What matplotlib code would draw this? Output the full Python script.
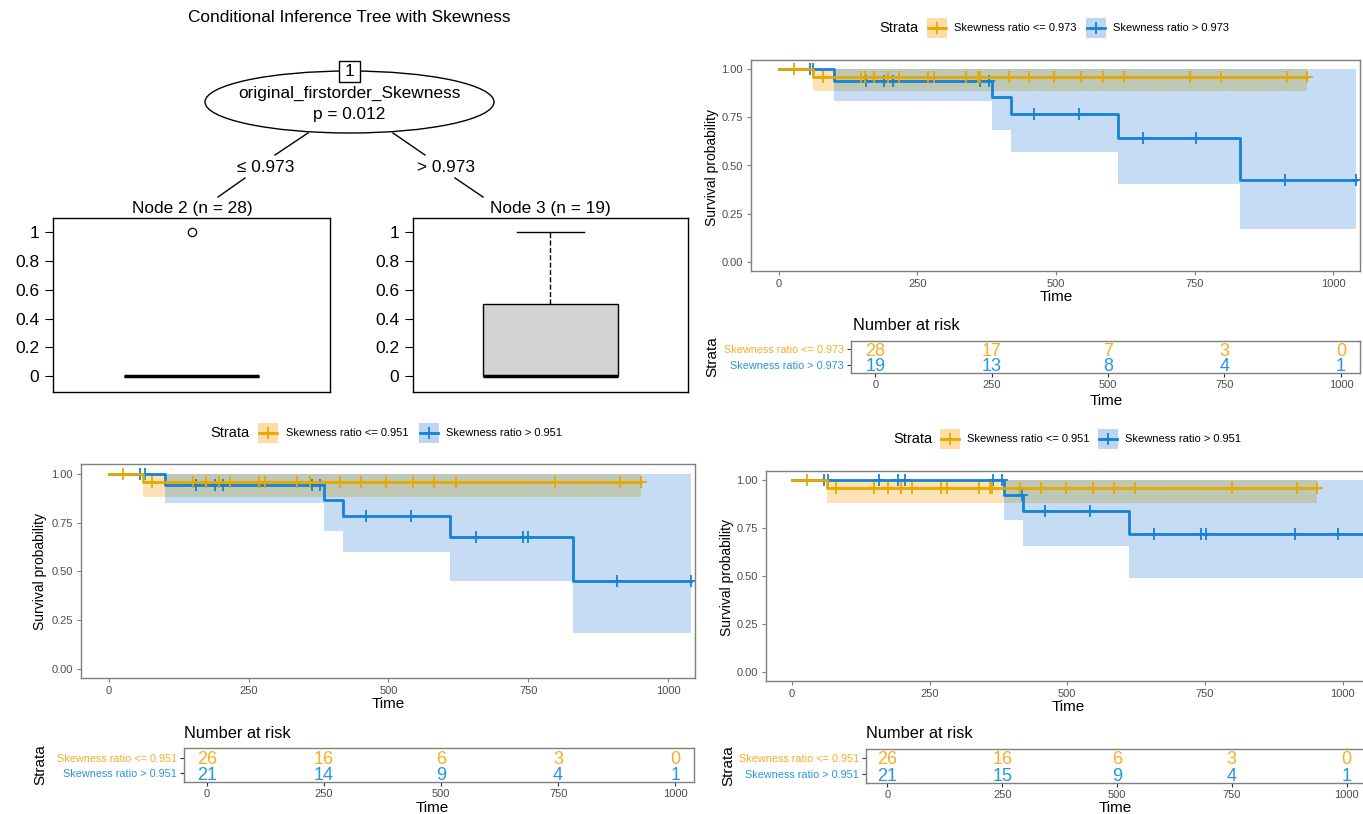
import numpy as np
import matplotlib
matplotlib.use('Agg')
import matplotlib.pyplot as plt
from matplotlib.patches import Ellipse, Rectangle

plt.rcParams['font.family'] = ['Liberation Sans', 'DejaVu Sans']

W, H = 1363, 814

# ---------------- data ----------------
tree_title = 'Conditional Inference Tree with Skewness'
split_var = 'original_firstorder_Skewness'
split_p = 'p = 0.012'
split_labels = ['\u2264 0.973', '> 0.973']
node_names = ['Node 2 (n = 28)', 'Node 3 (n = 19)']
node2_counts = [27, 1]   # number of 0 / 1 outcomes
node3_counts = [14, 5]

risk_times = [0, 250, 500, 750, 1000]

# panel A: cut 0.973
a_labels = ['Skewness ratio <= 0.973', 'Skewness ratio > 0.973']
a_pval = 'p = 0.098'
a_low_t = [0, 63, 953]
a_low_s = [1.0, 0.962, 0.962]
a_low_ci = [1.0, 0.889, 0.889]
a_low_cens = [27, 80, 148, 155, 172, 197, 218, 269, 281, 338, 360, 364, 415, 451,
              497, 545, 585, 622, 742, 798, 917, 953]
a_high_t = [0, 100, 385, 419, 612, 832, 1040]
a_high_s = [1.0, 0.941, 0.855, 0.768, 0.642, 0.426, 0.426]
a_high_ci = [1.0, 0.837, 0.685, 0.569, 0.403, 0.170, 0.170]
a_high_cens = [57, 63, 157, 190, 206, 364, 380, 460, 541, 657, 752, 912, 1040]
a_risk_low = [28, 17, 7, 3, 0]
a_risk_high = [19, 13, 8, 4, 1]

# panel B: cut 0.951
b_labels = ['Skewness ratio <= 0.951', 'Skewness ratio > 0.951']
b_pval = 'p = 0.15'
b_low_t = [0, 62, 952]
b_low_s = [1.0, 0.958, 0.958]
b_low_ci = [1.0, 0.880, 0.880]
b_low_cens = [26, 78, 150, 173, 197, 217, 269, 280, 336, 360, 414, 450, 496, 544,
              582, 621, 797, 914, 952]
b_high_t = [0, 100, 384, 418, 610, 830, 1041]
b_high_s = [1.0, 0.945, 0.868, 0.786, 0.676, 0.449, 0.449]
b_high_ci = [1.0, 0.851, 0.709, 0.598, 0.449, 0.183, 0.183]
b_high_cens = [56, 64, 156, 190, 205, 364, 378, 460, 541, 656, 741, 750, 909, 1041]
b_risk_low = [26, 16, 6, 3, 0]
b_risk_high = [21, 14, 9, 4, 1]

# panel C: cut 0.951, second cohort
c_labels = ['Skewness ratio <= 0.951', 'Skewness ratio > 0.951']
c_pval = 'p = 0.44'
c_low_t = [0, 64, 953]
c_low_s = [1.0, 0.958, 0.958]
c_low_ci = [1.0, 0.882, 0.882]
c_low_cens = [27, 81, 150, 174, 198, 218, 271, 281, 339, 360, 364, 415, 452, 498,
              546, 585, 623, 799, 917, 953]
c_high_t = [0, 386, 419, 612, 1040]
c_high_s = [1.0, 0.922, 0.840, 0.718, 0.718]
c_high_ci = [1.0, 0.791, 0.657, 0.487, 0.487]
c_high_cens = [58, 66, 158, 193, 206, 366, 381, 417, 460, 542, 657, 743, 752, 913, 992]
c_risk_low = [26, 16, 6, 3, 0]
c_risk_high = [21, 15, 9, 4, 1]

# ---------------- styles ----------------
OR_LINE, BL_LINE = '#E7A800', '#1582D6'
OR_FILL, BL_FILL, MIX_FILL = '#FDE2B5', '#C6DCF5', '#BFC8B5'
OR_KEY, BL_KEY = '#FDDCA6', '#BCD6F2'
OR_TXT, BL_TXT = '#F7AE26', '#2796DF'
GRID_C = '#7F7F7F'
TICK_C = '#4D4D4D'

fig = plt.figure(figsize=(W / 100, H / 100), dpi=100)

# overlay in pixel coords for free text and tree shapes
ov = fig.add_axes([0, 0, 1, 1])
ov.set_xlim(0, W)
ov.set_ylim(H, 0)
ov.axis('off')


def add_ax(l, t, r, b):
    return fig.add_axes([l / W, 1 - b / H, (r - l) / W, (b - t) / H])


# ---------------- tree ----------------
ov.text(349, 18, tree_title, ha='center', va='center', fontsize=12.4)
ov.add_patch(Ellipse((349.5, 102), 289, 62, fill=False, ec='black', lw=1))
ov.add_patch(Rectangle((339, 61), 21, 21, fc='white', ec='black', lw=1, zorder=3))
ov.text(349.5, 72, '1', ha='center', va='center', fontsize=12.5, zorder=4)
ov.text(349.5, 93, split_var, ha='center', va='center', fontsize=12.4)
ov.text(349.5, 114, split_p, ha='center', va='center', fontsize=12.4)
ov.plot([308, 275], [133, 155], color='black', lw=1)
ov.plot([245, 218], [178, 197], color='black', lw=1)
ov.plot([393, 425], [133, 155], color='black', lw=1)
ov.plot([455, 483], [178, 197], color='black', lw=1)
ov.text(266, 167, split_labels[0], ha='center', va='center', fontsize=12.4)
ov.text(446, 167, split_labels[1], ha='center', va='center', fontsize=12.4)
ov.text(192, 209, node_names[0], ha='center', va='center', fontsize=12.4)
ov.text(550, 209, node_names[1], ha='center', va='center', fontsize=12.4)

for (l, r), counts in zip([(53, 330), (413, 688)], [node2_counts, node3_counts]):
    bx = add_ax(l, 218, r, 392)
    vals = np.repeat([0, 1], counts)
    bx.boxplot([vals], positions=[0.5], widths=0.49, patch_artist=True,
               capwidths=0.245,
               boxprops=dict(facecolor='#D3D3D3', edgecolor='black', lw=1),
               medianprops=dict(color='black', lw=2.5),
               whiskerprops=dict(color='black', lw=1, ls='--'),
               capprops=dict(color='black', lw=1),
               flierprops=dict(marker='o', mfc='none', mec='black', ms=6, mew=0.9))
    bx.set_xlim(0, 1)
    bx.set_ylim(-0.11, 1.1)
    bx.set_xticks([])
    bx.set_yticks([0, 0.2, 0.4, 0.6, 0.8, 1])
    bx.set_yticklabels(['0', '0.2', '0.4', '0.6', '0.8', '1'])
    bx.tick_params(axis='y', labelsize=12.5, length=6, pad=4)
    for sp in bx.spines.values():
        sp.set_linewidth(1)


# ---------------- survival panels ----------------
def step_at(ts, vals, tq):
    idx = np.searchsorted(ts, tq, side='right') - 1
    return np.asarray(vals)[np.clip(idx, 0, len(vals) - 1)]


def km_panel(rect, xlim, ylim, low, high, pval, ppos):
    ax = add_ax(*rect)
    # confidence bands: blue, orange, then their overlap
    ax.fill_between(high[0], high[2], 1, step='post', color=BL_FILL, lw=0)
    ax.fill_between(low[0], low[2], 1, step='post', color=OR_FILL, lw=0)
    t_end = min(low[0][-1], high[0][-1])
    tt = np.unique(np.concatenate([low[0], high[0]]))
    tt = np.append(tt[tt < t_end], t_end)
    both = np.maximum(step_at(low[0], low[2], tt), step_at(high[0], high[2], tt))
    ax.fill_between(tt, both, 1, step='post', color=MIX_FILL, lw=0)
    for (t, s, ci, cens), lc in [(high, BL_LINE), (low, OR_LINE)]:
        ax.step(t, s, where='post', color=lc, lw=2)
        ax.plot(cens, step_at(t, s, cens), ls='none', marker='+', ms=8, mew=1.3, color=lc)
    ax.set_xlim(*xlim)
    ax.set_ylim(*ylim)
    ax.set_xticks(risk_times)
    ax.set_yticks([0, 0.25, 0.5, 0.75, 1.0])
    ax.set_yticklabels(['0.00', '0.25', '0.50', '0.75', '1.00'])
    ax.tick_params(labelsize=8, labelcolor=TICK_C, color=GRID_C, length=3, pad=3)
    for sp in ax.spines.values():
        sp.set_color(GRID_C)
        sp.set_linewidth(1)
    ov.text(ppos[0], ppos[1], pval, ha='left', va='center', fontsize=13.5)
    return ax


def risk_table(rect, xlim, ylim, low, high, labels, title_pos, strata_x):
    ax = add_ax(*rect)
    for i, tt in enumerate(risk_times):
        ax.text(tt, 2, str(low[i]), color=OR_TXT, ha='center', va='center_baseline', fontsize=13)
        ax.text(tt, 1, str(high[i]), color=BL_TXT, ha='center', va='center_baseline', fontsize=13)
    ax.set_xlim(*xlim)
    ax.set_ylim(*ylim)
    ax.set_xticks(risk_times)
    ax.set_yticks([2, 1])
    ax.set_yticklabels(labels)
    for lab, c in zip(ax.get_yticklabels(), [OR_TXT, BL_TXT]):
        lab.set_color(c)
    ax.tick_params(axis='y', labelsize=7.8, color='#333333', length=3, pad=2)
    ax.tick_params(axis='x', labelsize=8, labelcolor=TICK_C, color='#333333', length=3, pad=2)
    for sp in ax.spines.values():
        sp.set_color(GRID_C)
        sp.set_linewidth(1)
    ov.text(title_pos[0], title_pos[1], 'Number at risk', ha='left', va='center', fontsize=11.8)
    ov.text(strata_x, (rect[1] + rect[3]) / 2, 'Strata', rotation=90, ha='center',
            va='center', fontsize=11)
    return ax


def legend(y, strata_x, keys_x, text_x, labels):
    ov.text(strata_x, y, 'Strata', ha='center', va='center', fontsize=10.5)
    for kx, tx, lab, lc, fc in zip(keys_x, text_x, labels, [OR_LINE, BL_LINE], [OR_KEY, BL_KEY]):
        ov.add_patch(Rectangle((kx, y - 10), 20, 20, fc=fc, lw=0))
        ov.plot([kx + 1, kx + 19], [y, y], color=lc, lw=2)
        ov.plot([kx + 10], [y], marker='+', ms=8, mew=1.3, color=lc)
        ov.text(tx, y, lab, ha='left', va='center', fontsize=8)


# panel A (top right)
km_panel((751, 60, 1360, 271), (-49.6, 1048), (-0.048, 1.048),
         (a_low_t, a_low_s, a_low_ci, a_low_cens),
         (a_high_t, a_high_s, a_high_ci, a_high_cens), a_pval, (790, 224))
legend(28, 899, [927, 1086], [954, 1113], a_labels)
ov.text(712, 167, 'Survival probability', rotation=90, ha='center', va='center', fontsize=10)
ov.text(1056, 297, 'Time', ha='center', va='center', fontsize=11)
risk_table((851, 341, 1360, 373), (-52, 1041), (0.44, 2.56),
           a_risk_low, a_risk_high, a_labels, (853, 325), 712)
ov.text(1106, 401, 'Time', ha='center', va='center', fontsize=11)

# panel B (bottom left)
km_panel((81, 464, 695, 678), (-49.7, 1048), (-0.048, 1.051),
         (b_low_t, b_low_s, b_low_ci, b_low_cens),
         (b_high_t, b_high_s, b_high_ci, b_high_cens), b_pval, (120, 631))
legend(433, 230, [258, 419], [286, 446], b_labels)
ov.text(40, 572, 'Survival probability', rotation=90, ha='center', va='center', fontsize=10)
ov.text(388, 704, 'Time', ha='center', va='center', fontsize=11)
risk_table((184, 748, 694, 782), (-48.5, 1040), (0.42, 2.65),
           b_risk_low, b_risk_high, b_labels, (184, 733), 40)
ov.text(432, 808, 'Time', ha='center', va='center', fontsize=11)

# panel C (bottom right, cut off at the right edge)
km_panel((766, 471, 1369, 681), (-47, 1048), (-0.047, 1.047),
         (c_low_t, c_low_s, c_low_ci, c_low_cens),
         (c_high_t, c_high_s, c_high_ci, c_high_cens), c_pval, (804, 634))
legend(439, 913, [940, 1098], [967, 1125], c_labels)
ov.text(727, 577, 'Survival probability', rotation=90, ha='center', va='center', fontsize=10)
ov.text(1068, 707, 'Time', ha='center', va='center', fontsize=11)
risk_table((866, 749, 1365, 783), (-46.6, 1040), (0.44, 2.56),
           c_risk_low, c_risk_high, c_labels, (866, 733), 728)
ov.text(1115, 808, 'Time', ha='center', va='center', fontsize=11)

fig.savefig('out.png', dpi=100)
